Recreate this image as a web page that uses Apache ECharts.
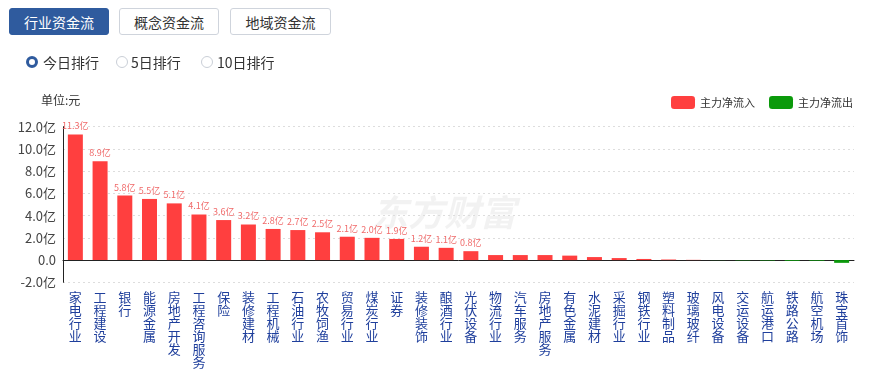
<!DOCTYPE html>
<html>
<head>
<meta charset="utf-8">
<script src="https://cdn.jsdelivr.net/npm/echarts@6/dist/echarts.min.js"></script>
<style>
  html,body{margin:0;padding:0;background:#fff;width:870px;height:371px;overflow:hidden;font-family:"Noto Sans CJK SC","Noto Sans",sans-serif;}
  #chart{position:absolute;left:0;top:0;width:870px;height:371px;}
  .btn{position:absolute;top:8px;height:27px;line-height:27px;text-align:center;font-size:14px;border-radius:3px;box-sizing:border-box;z-index:2;}
  .on{background:#2f5b9e;color:#fff;border:1px solid #2f5b9e;}
  .off{background:#fff;color:#333;border:1px solid #cfd4dc;}
  .radio{position:absolute;top:53px;height:18px;line-height:18px;font-size:14px;color:#333;z-index:2;}
  .dot{position:absolute;top:3px;width:12px;height:12px;border-radius:50%;box-sizing:border-box;border:1px solid #c9ced6;background:#fff;}
  .dot.sel{border:3.5px solid #2f5b9e;}
</style>
</head>
<body>
<div class="btn on" style="left:9px;width:100px;">行业资金流</div>
<div class="btn off" style="left:119px;width:100px;">概念资金流</div>
<div class="btn off" style="left:230px;width:101px;">地域资金流</div>
<div class="radio" style="left:26px;"><span class="dot sel" style="left:0"></span><span style="margin-left:17px;">今日排行</span></div>
<div class="radio" style="left:116px;"><span class="dot" style="left:0"></span><span style="margin-left:15px;">5日排行</span></div>
<div class="radio" style="left:201px;"><span class="dot" style="left:0"></span><span style="margin-left:16px;">10日排行</span></div>
<div id="chart"></div>
<script>
const categories = ['家电行业','工程建设','银行','能源金属','房地产开发','工程咨询服务','保险','装修建材','工程机械','石油行业','农牧饲渔','贸易行业','煤炭行业','证券','装修装饰','酿酒行业','光伏设备','物流行业','汽车服务','房地产服务','有色金属','水泥建材','采掘行业','钢铁行业','塑料制品','玻璃玻纤','风电设备','交运设备','航运港口','铁路公路','航空机场','珠宝首饰'];
const netFlow = [11.3,8.9,5.8,5.5,5.1,4.1,3.6,3.2,2.8,2.7,2.5,2.1,2.0,1.9,1.2,1.1,0.8,0.45,0.45,0.45,0.4,0.27,0.18,0.1,0.05,0.02,-0.01,-0.03,-0.04,-0.07,-0.06,-0.25];
const yTicks = [-2,0,2,4,6,8,10,12];
const legendNames = ['主力净流入','主力净流出'];

const inflow = netFlow.map(v => v > 0 ? v : '-');
const outflow = netFlow.map(v => v < 0 ? v : '-');

const chart = echarts.init(document.getElementById('chart'));
const lbl = {
  show: true, position: 'top', distance: 4, fontSize: 9, color: '#f06a6a',
  fontFamily: '"Noto Sans CJK SC", sans-serif',
  formatter: p => Math.abs(p.value) >= 0.5 ? p.value.toFixed(1) + '亿' : ''
};
chart.setOption({
  animation: false,
  textStyle: { fontFamily: '"Noto Sans CJK SC", "Noto Sans", sans-serif' },
  title: { text: '单位:元', left: 36, top: 89, textStyle: { fontSize: 12, fontWeight: 'normal', color: '#333' } },
  legend: {
    data: legendNames, right: 12, top: 91, itemWidth: 24, itemHeight: 13, itemGap: 14,
    textStyle: { fontSize: 11, color: '#333' }
  },
  graphic: [{
    type: 'text', left: 372, top: 194, silent: true, z: -1,
    style: { text: '东方财富', fontSize: 36, fontWeight: 'bold', fontStyle: 'italic', fill: 'rgba(0,0,0,0.05)',
      fontFamily: '"Noto Sans CJK SC", sans-serif' }
  }],
  grid: { left: 63, right: 16, top: 126.7, bottom: 88.7, containLabel: false, outerBoundsMode: 'none' },
  xAxis: {
    type: 'category', data: categories,
    axisLine: { onZero: true, lineStyle: { color: '#222', width: 1 } },
    axisTick: { show: false },
    axisLabel: {
      interval: 0, margin: 8, fontSize: 13, lineHeight: 13, color: '#1f3f9c',
      formatter: s => s.split('').join('\n'), verticalAlign: 'top'
    }
  },
  yAxis: {
    type: 'value', min: yTicks[0], max: yTicks[yTicks.length - 1], interval: 2,
    axisLine: { show: true, lineStyle: { color: '#222' } },
    axisTick: { show: false },
    axisLabel: { fontSize: 13, color: '#444', margin: 7, formatter: v => v === 0 ? '0.0' : v.toFixed(1) + '亿' },
    splitLine: { show: true, lineStyle: { color: '#ddd', type: [2, 3] } }
  },
  series: [
    { name: legendNames[0], type: 'bar', data: inflow, barWidth: 15, barGap: '-100%',
      itemStyle: { color: '#ff3f3f' }, label: lbl },
    { name: legendNames[1], type: 'bar', data: outflow, barWidth: 15, barGap: '-100%',
      itemStyle: { color: '#0b9a0b' }, label: { show: false } }
  ]
});
</script>
</body>
</html>
